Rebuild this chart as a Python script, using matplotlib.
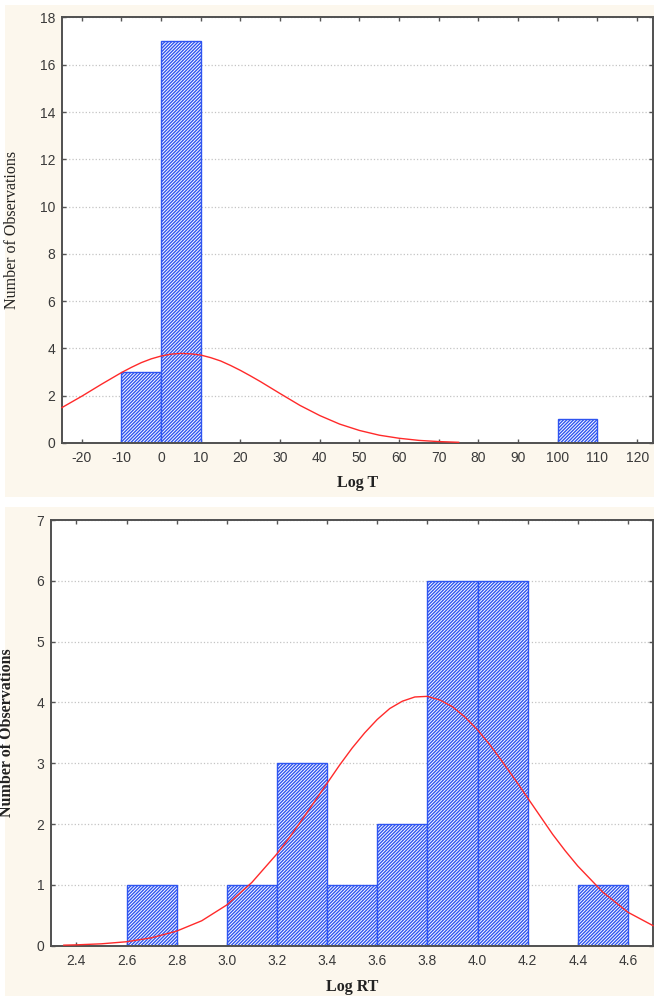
#!/usr/bin/env python3

import matplotlib
matplotlib.use("Agg")
import matplotlib.pyplot as plt
from matplotlib.patches import Rectangle

################################################################################

# Data

# Log T : bin left edges (width 10) and counts
T_LEFT = [-10, 0, 100]
T_COUNT = [3, 17, 1]
T_WIDTH = 10

# fitted normal curve for Log T
T_CURVE_X = [-25, -20, -15, -10, -7.5, -5, -2.5, 0, 2.5, 5, 7.5, 10, 12.5, 15, 17.5, 20, 22.5,
             25, 30, 35, 40, 45, 50, 55, 60, 65, 70, 75]
T_CURVE_Y = [1.50, 1.98, 2.49, 2.98, 3.20, 3.40, 3.56, 3.68, 3.76, 3.79, 3.77, 3.72, 3.61,
             3.47, 3.28, 3.07, 2.84, 2.60, 2.09, 1.59, 1.16, 0.80, 0.53, 0.33, 0.20, 0.11,
             0.06, 0.03]

# Log RT : bin left edges (width 0.2) and counts
RT_LEFT = [2.6, 3.0, 3.2, 3.4, 3.6, 3.8, 4.0, 4.4]
RT_COUNT = [1, 1, 3, 1, 2, 6, 6, 1]
RT_WIDTH = 0.2

RT_CURVE_X = [2.35, 2.4, 2.5, 2.6, 2.7, 2.8, 2.9, 3.0, 3.1, 3.2, 3.25, 3.3, 3.35, 3.4, 3.45,
              3.5, 3.55, 3.6, 3.65, 3.7, 3.75, 3.8, 3.85, 3.9, 3.95, 4.0, 4.05, 4.1, 4.15,
              4.2, 4.25, 4.3, 4.35, 4.4, 4.5, 4.6, 4.7]
RT_CURVE_Y = [0.009, 0.014, 0.031, 0.065, 0.13, 0.24, 0.41, 0.67, 1.04, 1.51, 1.78, 2.07,
              2.37, 2.67, 2.97, 3.25, 3.50, 3.72, 3.90, 4.02, 4.09, 4.10, 4.04, 3.93, 3.76,
              3.55, 3.30, 3.02, 2.73, 2.43, 2.13, 1.83, 1.56, 1.31, 0.88, 0.55, 0.33]

T_XTICKS = list(range(-20, 121, 10))
T_YTICKS = list(range(0, 19, 2))
RT_XTICKS = [2.4, 2.6, 2.8, 3.0, 3.2, 3.4, 3.6, 3.8, 4.0, 4.2, 4.4, 4.6]
RT_YTICKS = list(range(0, 8))

################################################################################

CREAM = '#fcf7ed'
BLUE = '#2f55f0'
RED = '#ff2a2a'

plt.rcParams['hatch.linewidth'] = 1.0
plt.rcParams['font.family'] = ['Liberation Sans', 'DejaVu Sans']

W, H = 654, 996
fig = plt.figure(figsize=(W / 100, H / 100), dpi=100, facecolor='white')

# cream panels behind each chart
fig.patches.append(Rectangle((5 / W, 1 - 497 / H), 1, 492 / H, transform=fig.transFigure,
                             facecolor=CREAM, edgecolor='none', zorder=-10))
fig.patches.append(Rectangle((5 / W, 0), 1, 1 - 507 / H, transform=fig.transFigure,
                             facecolor=CREAM, edgecolor='none', zorder=-10))


def box(l, t, r, b):
	return [l / W, 1 - b / H, (r - l) / W, (b - t) / H]


def style(ax, xticks, yticks, xlim, ylim, fmt):
	ax.set_xlim(*xlim)
	ax.set_ylim(*ylim)
	ax.set_xticks(xticks)
	ax.set_xticklabels([fmt(v) for v in xticks])
	ax.set_yticks(yticks)
	ax.yaxis.grid(True, linestyle=':', color='#c4c4c4', linewidth=0.9)
	ax.set_axisbelow(True)
	ax.tick_params(direction='in', length=3, width=1, color='#555555',
	               top=True, right=True, labelsize=10, labelcolor='#3a3a3a')
	ax.tick_params(axis='x', pad=6)
	ax.tick_params(axis='y', pad=5)
	for s in ax.spines.values():
		s.set_color('#505050')
		s.set_linewidth(1.4)


# --- Log T ---
ax1 = fig.add_axes(box(62, 17.5, 653, 443))
ax1.bar(T_LEFT, T_COUNT, width=T_WIDTH, align='edge', facecolor='white',
        edgecolor=BLUE, hatch='//////////', linewidth=1.0, zorder=2)
ax1.plot(T_CURVE_X, T_CURVE_Y, color=RED, linewidth=1.0, zorder=4, clip_on=False)
style(ax1, T_XTICKS, T_YTICKS, (-25, 124), (0, 18), lambda v: str(v))
ax1.set_ylabel('Number of Observations', family='Liberation Serif', fontsize=11.5, color='#222222')
ax1.yaxis.set_label_coords(-0.071, 0.5)
ax1.set_xlabel('Log T', family='Liberation Serif', fontsize=11.5, fontweight='bold', color='#222222',
               va='center')
ax1.xaxis.set_label_coords(0.5, -0.094)

# --- Log RT ---
ax2 = fig.add_axes(box(51.3, 520, 653, 945.7))
ax2.bar(RT_LEFT, RT_COUNT, width=RT_WIDTH, align='edge', facecolor='white',
        edgecolor=BLUE, hatch='//////////', linewidth=1.0, zorder=2)
ax2.plot(RT_CURVE_X, RT_CURVE_Y, color=RED, linewidth=1.0, zorder=4, clip_on=False)
style(ax2, RT_XTICKS, RT_YTICKS, (2.3, 4.7), (0, 7), lambda v: '%.1f' % v)
ax2.set_ylabel('Number of Observations', family='Liberation Serif', fontsize=11.5,
               fontweight='bold', color='#222222')
ax2.yaxis.set_label_coords(-0.061, 0.5)
ax2.set_xlabel('Log RT', family='Liberation Serif', fontsize=11.5, fontweight='bold', color='#222222',
               va='center')
ax2.xaxis.set_label_coords(0.5, -0.097)

fig.savefig('out.png', dpi=100, facecolor=fig.get_facecolor())
